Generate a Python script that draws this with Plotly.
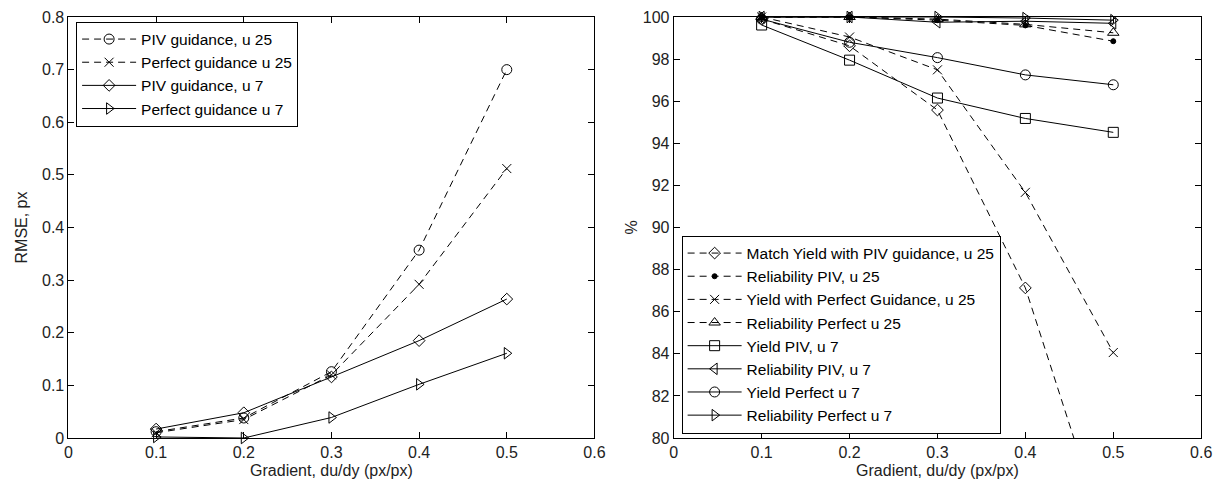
import plotly.graph_objects as go

gradient = [0.1, 0.2, 0.3, 0.4, 0.5]

# Left panel: RMSE, px
rmse_piv_u25 = [0.012, 0.038, 0.126, 0.357, 0.700]
rmse_perfect_u25 = [0.010, 0.035, 0.120, 0.292, 0.512]
rmse_piv_u7 = [0.017, 0.048, 0.116, 0.185, 0.264]
rmse_perfect_u7 = [0.002, 0.000, 0.039, 0.102, 0.161]

# Right panel: %
match_yield_piv_u25 = [99.9, 98.63, 95.58, 87.13, 74.2]
reliability_piv_u25 = [100.0, 100.0, 99.85, 99.6, 98.85]
yield_perfect_u25 = [100.0, 99.05, 97.49, 91.67, 84.06]
reliability_perfect_u25 = [100.0, 100.0, 99.9, 99.65, 99.25]
yield_piv_u7 = [99.62, 97.95, 96.15, 95.18, 94.52]
reliability_piv_u7 = [100.0, 100.0, 99.75, 99.8, 99.7]
yield_perfect_u7 = [99.9, 98.8, 98.07, 97.25, 96.78]
reliability_perfect_u7 = [100.0, 100.0, 100.0, 99.95, 99.85]

left_series = [
    ("PIV guidance, u 25", rmse_piv_u25, "circle-open", "dash", 10),
    ("Perfect guidance u 25", rmse_perfect_u25, "x-thin-open", "dash", 9),
    ("PIV guidance, u 7", rmse_piv_u7, "diamond-open", "solid", 9),
    ("Perfect guidance u 7", rmse_perfect_u7, "triangle-right-open", "solid", 10),
]
right_series = [
    ("Match Yield with PIV guidance, u 25", match_yield_piv_u25, "diamond-open", "dash", 9),
    ("Reliability PIV, u 25", reliability_piv_u25, "circle", "dash", 5),
    ("Yield with Perfect Guidance, u 25", yield_perfect_u25, "x-thin-open", "dash", 9),
    ("Reliability Perfect u 25", reliability_perfect_u25, "triangle-up-open", "dash", 10),
    ("Yield PIV, u 7", yield_piv_u7, "square-open", "solid", 10),
    ("Reliability PIV, u 7", reliability_piv_u7, "triangle-left-open", "solid", 10),
    ("Yield Perfect u 7", yield_perfect_u7, "circle-open", "solid", 10),
    ("Reliability Perfect u 7", reliability_perfect_u7, "triangle-right-open", "solid", 10),
]

DASH = "7px,5px"
FONT = "Liberation Sans, Arial, sans-serif"

fig = go.Figure()

for i, (name, vals, sym, dash, size) in enumerate(left_series):
    fig.add_trace(go.Scatter(
        x=gradient, y=vals, name=name, mode="lines+markers",
        xaxis="x", yaxis="y", legend="legend",
        line=dict(color="black", width=1, dash=DASH if dash == "dash" else "solid"),
        marker=dict(symbol=sym, size=size, color="black", line=dict(color="black", width=1)),
        cliponaxis=False,
    ))

for i, (name, vals, sym, dash, size) in enumerate(right_series):
    fig.add_trace(go.Scatter(
        x=gradient, y=vals, name=name, mode="lines+markers",
        xaxis="x2", yaxis="y2", legend="legend2",
        line=dict(color="black", width=1, dash=DASH if dash == "dash" else "solid"),
        marker=dict(symbol=sym, size=size, color="black", line=dict(color="black", width=1)),
        cliponaxis=(i == 0),
    ))

axis_common = dict(
    showline=True, linecolor="black", linewidth=1, mirror="ticks",
    ticks="inside", ticklen=6, tickcolor="black", showgrid=False, zeroline=False,
    tickfont=dict(family=FONT, size=16, color="#222"),
)

# plot area spans y = 17 .. 438 px
def py(pix):
    return (438 - pix) / 421.0

fig.update_layout(
    width=1228, height=485,
    margin=dict(l=0, r=0, t=17, b=47),
    paper_bgcolor="white", plot_bgcolor="white",
    font=dict(family=FONT, size=16, color="#222"),
    xaxis=dict(domain=[65.25 / 1228, 597.75 / 1228], range=[0, 0.6],
               tickvals=[0, 0.1, 0.2, 0.3, 0.4, 0.5, 0.6],
               ticktext=["0", "0.1", "0.2", "0.3", "0.4", "0.5", "0.6"],
               title=dict(text="Gradient, du/dy (px/px)", standoff=4, font=dict(size=16)),
               anchor="y", **axis_common),
    yaxis=dict(range=[0, 0.8], tickvals=[0, 0.1, 0.2, 0.3, 0.4, 0.5, 0.6, 0.7, 0.8],
               ticktext=["0", "0.1", "0.2", "0.3", "0.4", "0.5", "0.6", "0.7", "0.8"],
               title=dict(text="RMSE, px", standoff=10, font=dict(size=16)),
               anchor="x", **axis_common),
    xaxis2=dict(domain=[678 / 1228, 1212 / 1228], range=[0, 0.6],
                tickvals=[0, 0.1, 0.2, 0.3, 0.4, 0.5, 0.6],
                ticktext=["0", "0.1", "0.2", "0.3", "0.4", "0.5", "0.6"],
                title=dict(text="Gradient, du/dy (px/px)", standoff=4, font=dict(size=16)),
                anchor="y2", **axis_common),
    yaxis2=dict(range=[80, 100], tickvals=list(range(80, 101, 2)),
                title=dict(text="%", standoff=1, font=dict(size=16)),
                anchor="x2", **axis_common),
    legend=dict(x=73 / 1228, y=py(74), xanchor="left", yanchor="middle",
                bgcolor="white", bordercolor="black", borderwidth=1,
                font=dict(family=FONT, size=15.5, color="black"),
                itemwidth=54, traceorder="normal"),
    legend2=dict(x=686 / 1228, y=py(334.5), xanchor="left", yanchor="middle",
                 bgcolor="white", bordercolor="black", borderwidth=1,
                 font=dict(family=FONT, size=15.5, color="black"),
                 itemwidth=54, traceorder="normal"),
    showlegend=True,
)

fig.write_html("out.html")
